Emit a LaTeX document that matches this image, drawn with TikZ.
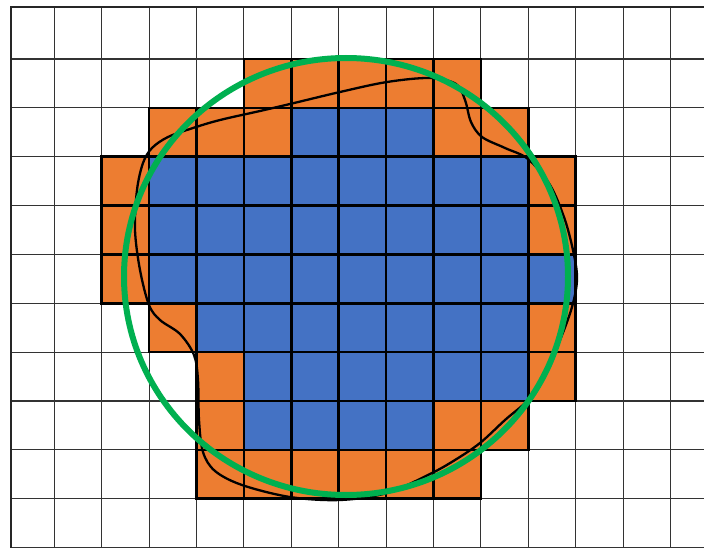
\documentclass[tikz,border=0pt]{standalone}
\definecolor{cellorange}{HTML}{ED7D31}
\definecolor{cellblue}{HTML}{4472C4}
\definecolor{ringgreen}{HTML}{00B050}
\begin{document}
\begin{tikzpicture}[x=1pt,y=-1pt,
  gridline/.style={draw=black!80,line width=1.1pt},
  borderline/.style={draw=black!85,line width=2pt},
  orangecell/.style={fill=cellorange,draw=black,line width=2.5pt},
  bluecell/.style={fill=cellblue,draw=black,line width=2.5pt},
  thickline/.style={draw=black,line width=3.5pt},
  outline/.style={draw=black,line width=2.3pt},
  ring/.style={draw=ringgreen,line width=6pt}]
\useasboundingbox (0,0) rectangle (704,548);
\fill[white] (0,0) rectangle (704,548);
% grid
\foreach \i in {0,...,13}
  \draw[gridline] ({54.3+47.4*\i},7.5) -- ({54.3+47.4*\i},548);
\foreach \j in {0,...,10}
  \draw[gridline] (10.7,{59+48.86*\j}) -- (704,{59+48.86*\j});
\draw[borderline] (10.7,548) -- (10.7,7.5) -- (704,7.5);
% orange cells
\foreach \c/\r in {5/1,6/1,7/1,8/1,9/1, 3/2,4/2,5/2,9/2,10/2, 2/3,11/3, 2/4,11/4, 2/5,
                   3/6,11/6, 4/7,11/7, 4/8,9/8,10/8, 4/9,5/9,6/9,7/9,8/9,9/9}
  \filldraw[orangecell] ({54.3+47.4*(\c-1)},{59+48.86*(\r-1)}) rectangle ++(47.4,48.86);
% blue cells
\foreach \r/\a/\b in {2/6/8, 3/3/10, 4/3/10, 5/3/11, 6/4/10, 7/5/10, 8/5/8}
  \foreach \c in {\a,...,\b}
    \filldraw[bluecell] ({54.3+47.4*(\c-1)},{59+48.86*(\r-1)}) rectangle ++(47.4,48.86);
% heavier column separators inside the coloured block
\draw[thickline] (291.3,59) -- (291.3,498.7);
\draw[thickline] (338.7,59) -- (338.7,498.7);
% black freeform outline
\draw[outline] plot[smooth cycle, tension=0.55] coordinates {
  (430,78) (456,84) (465,100) (471,122) (482,137) (505,148) (528,159)
  (550,185) (565,220) (574,255) (577,280) (572,307) (560,340) (545,372)
  (530,398) (505,420) (480,443) (455,460) (430,474) (387,493) (340,500)
  (290,497) (242,485) (215,471) (203,452) (199,420) (198,380) (194,355)
  (180,334) (160,320) (149,305) (140,270) (135,230) (137,190) (143,163)
  (152,148) (168,137) (193,128) (220,120) (260,111) (290,104) (340,92) (387,82)};
% green ring
\draw[ring] (346,276.5) ellipse [x radius=222, y radius=218.5];
\end{tikzpicture}
\end{document}
